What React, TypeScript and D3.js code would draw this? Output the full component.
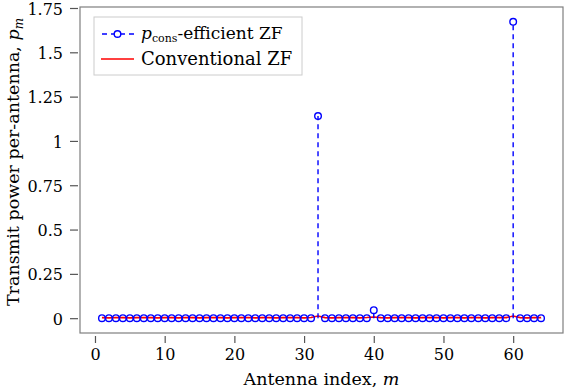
import { useEffect, useRef } from "react"
import * as d3 from "d3"

// antenna index m = 1..64
const antennas = [
  1, 2, 3, 4, 5, 6, 7, 8, 9, 10, 11, 12, 13, 14, 15, 16, 17, 18, 19, 20, 21, 22, 23, 24, 25, 26, 27,
  28, 29, 30, 31, 32, 33, 34, 35, 36, 37, 38, 39, 40, 41, 42, 43, 44, 45, 46, 47, 48, 49, 50, 51,
  52, 53, 54, 55, 56, 57, 58, 59, 60, 61, 62, 63, 64,
]

// p_cons-efficient ZF power per antenna
const pConsValues = [
  0, 0, 0, 0, 0, 0, 0, 0, 0, 0, 0, 0, 0, 0, 0, 0, 0, 0, 0, 0, 0, 0, 0, 0, 0, 0, 0, 0, 0, 0, 0, 1.14,
  0, 0, 0, 0, 0, 0, 0, 0.045, 0, 0, 0, 0, 0, 0, 0, 0, 0, 0, 0, 0, 0, 0, 0, 0, 0, 0, 0, 1.672, 0, 0, 0,
  0,
]

// conventional ZF power per antenna
const convValues = [
  0.003, 0.002, 0.004, 0.003, 0.002, 0.003, 0.004, 0.003, 0.002, 0.003, 0.003, 0.002, 0.004, 0.003,
  0.002, 0.003, 0.004, 0.003, 0.002, 0.003, 0.003, 0.004, 0.002, 0.003, 0.003, 0.002, 0.003, 0.004,
  0.003, 0.002, 0.004, 0.012, 0.003, 0.002, 0.003, 0.004, 0.003, 0.002, 0.004, 0.007, 0.003, 0.002,
  0.003, 0.004, 0.003, 0.002, 0.003, 0.003, 0.004, 0.002, 0.003, 0.003, 0.002, 0.004, 0.003, 0.002,
  0.003, 0.004, 0.003, 0.012, 0.003, 0.002, 0.003, 0.003,
]

const xTicks = [0, 10, 20, 30, 40, 50, 60]
const yTicks = [0, 0.25, 0.5, 0.75, 1, 1.25, 1.5, 1.75]
const yTickLabels = ["0", "0.25", "0.5", "0.75", "1", "1.25", "1.5", "1.75"]

const W = 566
const H = 390
const FONT = "DejaVu Serif"

const App = () => {
  const ref = useRef<SVGSVGElement>(null)

  useEffect(() => {
    const svg = d3.select(ref.current)
    svg.selectAll("*").remove()

    const left = 80
    const right = 563
    const top = 7
    const bottom = 333

    const x = d3.scaleLinear().domain([-2.15, 67.15]).range([left, right])
    const y = d3.scaleLinear().domain([-0.0836, 1.7556]).range([bottom, top])

    const g = svg.append("g")

    // frame
    g.append("rect")
      .attr("x", left)
      .attr("y", top)
      .attr("width", right - left)
      .attr("height", bottom - top)
      .attr("fill", "none")
      .attr("stroke", "#7f7f7f")
      .attr("stroke-width", 1.2)

    // x axis (ticks sit a little below the frame)
    const xAxis = g
      .append("g")
      .attr("transform", `translate(0,${bottom + 3})`)
      .call(d3.axisBottom(x).tickValues(xTicks).tickSize(7).tickPadding(6) as any)
    xAxis.select(".domain").remove()
    xAxis.selectAll(".tick line").attr("stroke", "#555").attr("stroke-width", 1.2)
    xAxis
      .selectAll(".tick text")
      .attr("font-family", FONT)
      .attr("font-size", 16)
      .attr("fill", "#000")

    // y axis
    const yAxis = g
      .append("g")
      .attr("transform", `translate(${left - 2},0)`)
      .call(
        d3
          .axisLeft(y)
          .tickValues(yTicks)
          .tickSize(8)
          .tickPadding(7)
          .tickFormat((_d, i) => yTickLabels[i]) as any
      )
    yAxis.select(".domain").remove()
    yAxis.selectAll(".tick line").attr("stroke", "#555").attr("stroke-width", 1.2)
    yAxis
      .selectAll(".tick text")
      .attr("font-family", FONT)
      .attr("font-size", 16)
      .attr("dy", "0.38em")
      .attr("fill", "#000")

    // axis labels
    const xl = g
      .append("text")
      .attr("x", (left + right) / 2)
      .attr("y", 385)
      .attr("text-anchor", "middle")
      .attr("font-family", FONT)
      .attr("font-size", 17.5)
    xl.append("tspan").text("Antenna index, ")
    xl.append("tspan").attr("font-style", "italic").text("m")

    const yl = g
      .append("text")
      .attr("transform", `translate(19,${(top + bottom) / 2 - 8}) rotate(-90)`)
      .attr("text-anchor", "middle")
      .attr("font-family", FONT)
      .attr("font-size", 17.5)
    yl.append("tspan").text("Transmit power per-antenna, ")
    yl.append("tspan").attr("font-style", "italic").text("p")
    yl.append("tspan").attr("font-style", "italic").attr("font-size", 12).attr("dy", 4).text("m")

    // conventional ZF line
    const line = d3
      .line<number>()
      .x((_d, i) => x(antennas[i]))
      .y((d) => y(d))
    g.append("path")
      .datum(convValues)
      .attr("d", line)
      .attr("fill", "none")
      .attr("stroke", "#ff0000")
      .attr("stroke-width", 1.6)

    // p_cons-efficient ZF stems
    g.selectAll(".stem")
      .data(pConsValues)
      .join("line")
      .attr("class", "stem")
      .attr("x1", (_d, i) => x(antennas[i]))
      .attr("x2", (_d, i) => x(antennas[i]))
      .attr("y1", y(0))
      .attr("y2", (d) => y(d))
      .attr("stroke", "#0000ff")
      .attr("stroke-width", 1.4)
      .attr("stroke-dasharray", "5,4")

    g.selectAll(".mark")
      .data(pConsValues)
      .join("circle")
      .attr("class", "mark")
      .attr("cx", (_d, i) => x(antennas[i]))
      .attr("cy", (d) => y(d))
      .attr("r", 3.3)
      .attr("fill", "none")
      .attr("stroke", "#0000ff")
      .attr("stroke-width", 1.4)

    // legend
    const lg = g.append("g")
    lg.append("rect")
      .attr("x", 94)
      .attr("y", 17)
      .attr("width", 208)
      .attr("height", 58)
      .attr("fill", "#fff")
      .attr("stroke", "#cccccc")
      .attr("stroke-width", 1)

    const r1 = 34
    lg.append("line")
      .attr("x1", 101)
      .attr("x2", 134)
      .attr("y1", r1)
      .attr("y2", r1)
      .attr("stroke", "#0000ff")
      .attr("stroke-width", 1.4)
      .attr("stroke-dasharray", "5,4")
      .attr("stroke-dashoffset", -1)
    lg.append("circle")
      .attr("cx", 117.5)
      .attr("cy", r1)
      .attr("r", 3.3)
      .attr("fill", "#fff")
      .attr("stroke", "#0000ff")
      .attr("stroke-width", 1.4)
    const t1 = lg
      .append("text")
      .attr("x", 141)
      .attr("y", r1 + 5)
      .attr("font-family", FONT)
      .attr("font-size", 17)
    t1.append("tspan").attr("font-style", "italic").text("p")
    t1.append("tspan").attr("font-size", 11).attr("dy", 3).text("cons")
    t1.append("tspan").attr("dy", -3).text("-efficient ZF")

    const r2 = 59
    lg.append("line")
      .attr("x1", 101)
      .attr("x2", 134)
      .attr("y1", r2)
      .attr("y2", r2)
      .attr("stroke", "#ff0000")
      .attr("stroke-width", 1.6)
    lg.append("text")
      .attr("x", 141)
      .attr("y", r2 + 6)
      .attr("font-family", FONT)
      .attr("font-size", 18)
      .text("Conventional ZF")
  }, [])

  return (
    <svg
      ref={ref}
      width={W}
      height={H}
      style={{ position: "absolute", left: 0, top: 0, background: "#fff" }}
    />
  )
}

export default App
